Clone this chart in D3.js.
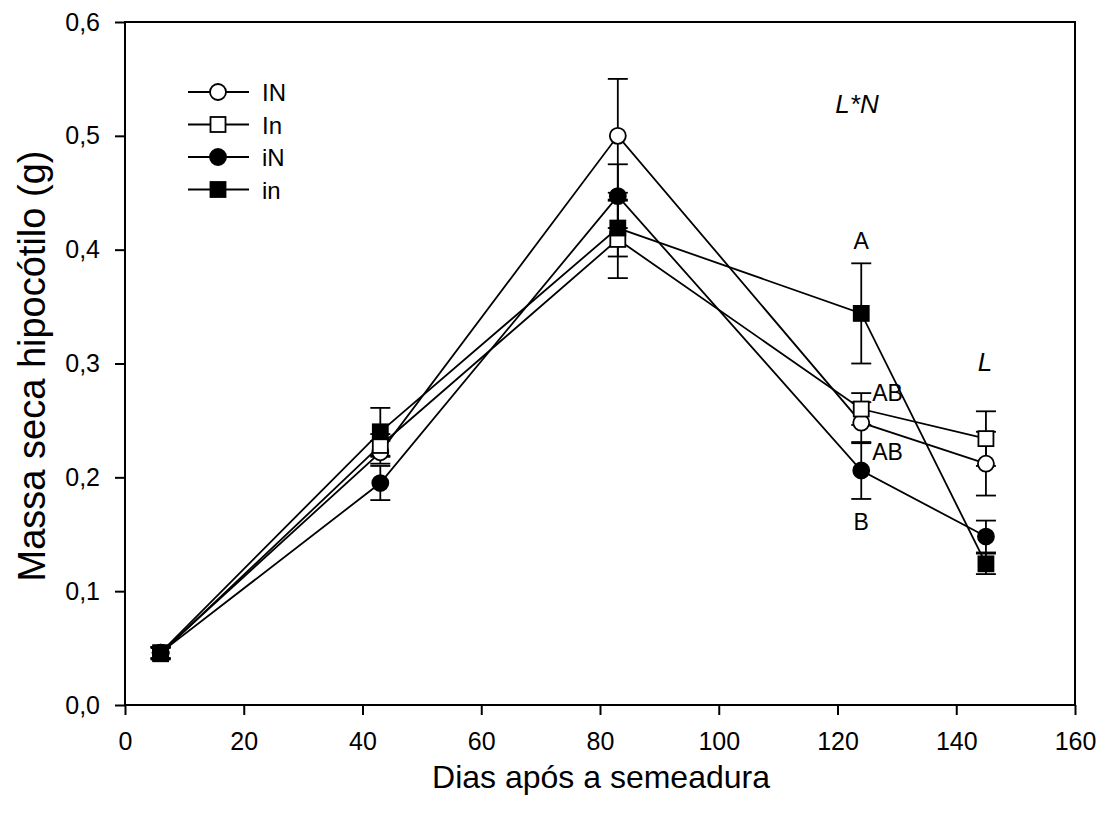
<!DOCTYPE html>
<html><head><meta charset="utf-8">
<script src="https://cdn.jsdelivr.net/npm/d3@7"></script>
<style>body{margin:0;background:#fff}svg{display:block}text{font-family:Arial,"Liberation Sans",sans-serif}</style>
</head><body>
<svg id="c" width="1106" height="820"></svg>
<script>
const days = [6, 43, 83, 124, 145];
const legendLabels = ["IN", "In", "iN", "in"];
const valLN = [0.046, 0.222, 0.500, 0.248, 0.212];
const errLN = [0.005, 0.010, 0.050, 0.018, 0.028];
const valLn = [0.045, 0.228, 0.409, 0.260, 0.234];
const errLn = [0.005, 0.010, 0.034, 0.014, 0.024];
const valIN = [0.046, 0.195, 0.447, 0.206, 0.148];
const errIN = [0.005, 0.015, 0.028, 0.025, 0.014];
const valIn = [0.046, 0.240, 0.419, 0.344, 0.124];
const errIn = [0.005, 0.021, 0.025, 0.044, 0.009];
const xTicks = [0, 20, 40, 60, 80, 100, 120, 140, 160];
const yTicks = [0, 0.1, 0.2, 0.3, 0.4, 0.5, 0.6];
const letters = [
  {day: 124, v: 0.4075, t: "A", anchor: "middle", dx: 0},
  {day: 124, v: 0.274, t: "AB", anchor: "start", dx: 11},
  {day: 124, v: 0.222, t: "AB", anchor: "start", dx: 11},
  {day: 124, v: 0.161, t: "B", anchor: "middle", dx: 0}
];

const SW = 1.8;
const svg = d3.select("#c");
const x = d3.scaleLinear().domain([0, 160]).range([125, 1075]);
const y = d3.scaleLinear().domain([0, 0.6]).range([705, 22]);

svg.append("rect").attr("x", 125).attr("y", 22).attr("width", 950).attr("height", 683)
  .attr("fill", "none").attr("stroke", "#000").attr("stroke-width", 2);

const fmt = d => d3.format(".1f")(d).replace(".", ",");
const xa = svg.append("g").attr("transform", "translate(0,705)")
  .call(d3.axisBottom(x).tickValues(xTicks).tickSize(10).tickPadding(17).tickFormat(d3.format("d")));
const ya = svg.append("g").attr("transform", "translate(125,0)")
  .call(d3.axisLeft(y).tickValues(yTicks).tickSize(10).tickPadding(15).tickFormat(fmt));
[xa, ya].forEach(a => {
  a.select(".domain").remove();
  a.selectAll("line").attr("stroke", "#000").attr("stroke-width", 2);
  a.selectAll("text").attr("font-size", 25).attr("fill", "#000")
   .style("font-family", "Arial, 'Liberation Sans', sans-serif");
});

svg.append("text").attr("x", 601).attr("y", 788).attr("text-anchor", "middle")
  .attr("font-size", 32).text("Dias após a semeadura");
svg.append("text").attr("transform", "translate(45,366) rotate(-90)").attr("text-anchor", "middle")
  .attr("font-size", 38).text("Massa seca hipocótilo (g)");

const series = [
  {v: valLN, e: errLN, shape: "circle", fill: "#fff"},
  {v: valLn, e: errLn, shape: "square", fill: "#fff"},
  {v: valIN, e: errIN, shape: "circle", fill: "#000"},
  {v: valIn, e: errIn, shape: "square", fill: "#000"}
];

const line = d3.line().x((d, i) => x(days[i])).y(d => y(d));
series.forEach(s => {
  svg.append("path").datum(s.v).attr("d", line).attr("fill", "none")
    .attr("stroke", "#000").attr("stroke-width", SW);
});
series.forEach(s => {
  const g = svg.append("g");
  s.v.forEach((v, i) => {
    const cx = x(days[i]);
    g.append("line").attr("x1", cx).attr("x2", cx).attr("y1", y(v - s.e[i])).attr("y2", y(v + s.e[i]))
      .attr("stroke", "#000").attr("stroke-width", SW);
    [v - s.e[i], v + s.e[i]].forEach(w => {
      g.append("line").attr("x1", cx - 10).attr("x2", cx + 10).attr("y1", y(w)).attr("y2", y(w))
        .attr("stroke", "#000").attr("stroke-width", SW);
    });
  });
});
function marker(g, shape, fill, cx, cy) {
  if (shape === "circle") {
    g.append("circle").attr("cx", cx).attr("cy", cy).attr("r", 8)
      .attr("fill", fill).attr("stroke", "#000").attr("stroke-width", SW);
  } else {
    g.append("rect").attr("x", cx - 7.5).attr("y", cy - 7.5).attr("width", 15).attr("height", 15)
      .attr("fill", fill).attr("stroke", "#000").attr("stroke-width", SW);
  }
}
series.forEach(s => {
  const g = svg.append("g");
  s.v.forEach((v, i) => marker(g, s.shape, s.fill, x(days[i]), y(v)));
});

const leg = svg.append("g");
series.forEach((s, i) => {
  const ly = 92 + i * 32.5;
  leg.append("line").attr("x1", 188).attr("x2", 249).attr("y1", ly).attr("y2", ly)
    .attr("stroke", "#000").attr("stroke-width", SW);
  marker(leg, s.shape, s.fill, 218, ly);
  leg.append("text").attr("x", 262).attr("y", ly + 9).attr("font-size", 24).text(legendLabels[i]);
});

letters.forEach(l => {
  svg.append("text").attr("x", x(l.day) + l.dx).attr("y", y(l.v) + 8)
    .attr("text-anchor", l.anchor).attr("font-size", 23).text(l.t);
});
svg.append("text").attr("x", 857).attr("y", 113).attr("text-anchor", "middle")
  .attr("font-size", 26).attr("font-style", "italic").text("L*N");
svg.append("text").attr("x", 985).attr("y", 371).attr("text-anchor", "middle")
  .attr("font-size", 26).attr("font-style", "italic").text("L");
</script>
</body></html>
